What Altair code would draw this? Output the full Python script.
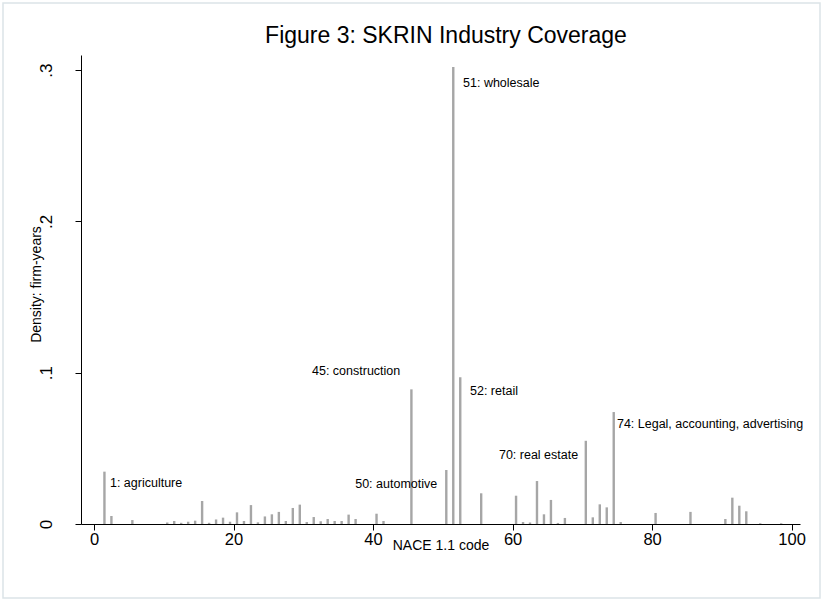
import altair as alt
import pandas as pd

# NACE 1.1 two-digit codes and density of firm-years
codes = [1, 2, 5, 10, 11, 12, 13, 14, 15, 16, 17, 18, 19, 20, 21, 22, 23, 24, 25, 26,
         27, 28, 29, 30, 31, 32, 33, 34, 35, 36, 37, 40, 41, 45, 50, 51, 52, 55, 60, 61,
         62, 63, 64, 65, 66, 67, 70, 71, 72, 73, 74, 75, 80, 85, 90, 91, 92, 93, 95, 98]
density = [0.0346, 0.0053, 0.0026, 0.0010, 0.0020, 0.0008, 0.0015, 0.0022, 0.0152, 0.0008,
           0.0030, 0.0042, 0.0015, 0.0077, 0.0020, 0.0125, 0.0011, 0.0050, 0.0064, 0.0080,
           0.0020, 0.0106, 0.0128, 0.0013, 0.0046, 0.0018, 0.0033, 0.0020, 0.0020, 0.0062,
           0.0033, 0.0068, 0.0020, 0.0890, 0.0357, 0.3020, 0.0970, 0.0203, 0.0187, 0.0013,
           0.0010, 0.0284, 0.0064, 0.0159, 0.0007, 0.0040, 0.0550, 0.0044, 0.0130, 0.0110,
           0.0740, 0.0013, 0.0073, 0.0080, 0.0033, 0.0174, 0.0121, 0.0084, 0.0005, 0.0005]

# annotations (data coordinates)
ann_left_text = ["51: wholesale", "1: agriculture", "52: retail",
                 "74: Legal, accounting, advertising"]
ann_left_x = [52.9, 2.29, 53.9, 74.96]
ann_left_y = [0.2915, 0.027, 0.088, 0.066]
ann_right_text = ["50: automotive", "45: construction", "70: real estate"]
ann_right_x = [49.2, 43.9, 69.4]
ann_right_y = [0.0264, 0.101, 0.0456]

title_text = "Figure 3: SKRIN Industry Coverage"
x_ticks = [0, 20, 40, 60, 80, 100]
y_ticks = [0, 0.1, 0.2, 0.3]

FONT = "Liberation Sans"
W, H = 719, 469

df = pd.DataFrame({"code": codes, "density": density})
xscale = alt.Scale(domain=[-1.86, 101.2], nice=False, zero=False)
yscale = alt.Scale(domain=[0, 0.31], nice=False)

bars = alt.Chart(df).transform_calculate(
    pos="datum.code + 0.5"
).mark_rule(color="#a6a6a6", strokeWidth=2.4).encode(
    x=alt.X("pos:Q", scale=xscale,
            axis=alt.Axis(values=x_ticks, title="NACE 1.1 code", grid=False,
                          tickSize=6, labelFontSize=16.5, labelPadding=1,
                          titleFontSize=14, titlePadding=-9, zindex=1)),
    y=alt.Y("density:Q", scale=yscale,
            axis=alt.Axis(values=y_ticks, title="Density: firm-years", grid=False,
                          tickSize=6, labelFontSize=17, labelAngle=270,
                          labelPadding=20,
                          labelExpr="datum.value == 0 ? '0' : replace(format(datum.value, '.1f'), '0.', '.')",
                          titleFontSize=14, titlePadding=-6, titleY=229, zindex=1)),
    y2=alt.datum(0),
)

border = alt.Chart(pd.DataFrame({"a": [0]})).mark_rect(
    fillOpacity=0, stroke="#dce4e7", strokeWidth=1.5, clip=False
).encode(
    x=alt.value(-78), x2=alt.value(739), y=alt.value(-52), y2=alt.value(543)
)

left_df = pd.DataFrame({"t": ann_left_text, "x": ann_left_x, "y": ann_left_y})
right_df = pd.DataFrame({"t": ann_right_text, "x": ann_right_x, "y": ann_right_y})

ann_left = alt.Chart(left_df).mark_text(
    align="left", baseline="middle", fontSize=12.5, font=FONT, color="black"
).encode(x=alt.X("x:Q", scale=xscale), y=alt.Y("y:Q", scale=yscale), text="t:N")

ann_right = alt.Chart(right_df).mark_text(
    align="right", baseline="middle", fontSize=12.5, font=FONT, color="black"
).encode(x=alt.X("x:Q", scale=xscale), y=alt.Y("y:Q", scale=yscale), text="t:N")

title = alt.Chart(pd.DataFrame({"t": [title_text]})).mark_text(
    align="center", baseline="middle", fontSize=23, font=FONT, color="black", clip=False
).encode(x=alt.value(365), y=alt.value(-19), text="t:N")

chart = alt.layer(bars, border, ann_left, ann_right, title).properties(
    width=W, height=H,
    autosize=alt.AutoSizeParams(type="none"),
    padding={"left": 81, "top": 55, "right": 23, "bottom": 77},
    background="white",
).configure_view(stroke=None).configure_axis(
    domainColor="black", tickColor="black", labelColor="black", titleColor="black",
    labelFont=FONT, titleFont=FONT, titleFontWeight="normal", domainWidth=1, tickWidth=1
)

chart.save("out.html", embed_options={"renderer": "svg", "actions": False})
